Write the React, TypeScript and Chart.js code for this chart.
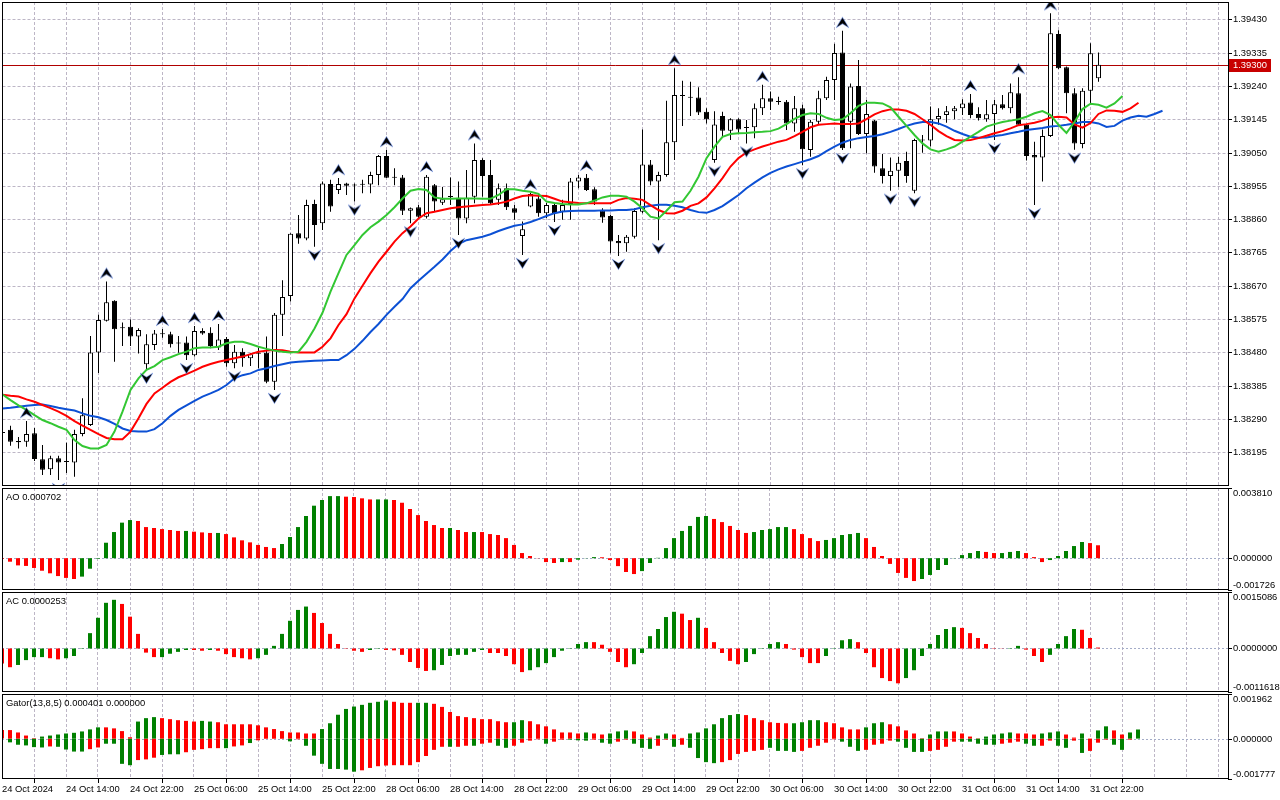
import React, { useEffect, useRef } from "react";
import { Chart, registerables } from "chart.js";

Chart.register(...registerables);

// ---------------- data ----------------
const timeLabels = [
  "24 Oct 2024", "24 Oct 14:00", "24 Oct 22:00", "25 Oct 06:00", "25 Oct 14:00", "25 Oct 22:00",
  "28 Oct 06:00", "28 Oct 14:00", "28 Oct 22:00", "29 Oct 06:00", "29 Oct 14:00", "29 Oct 22:00",
  "30 Oct 06:00", "30 Oct 14:00", "30 Oct 22:00", "31 Oct 06:00", "31 Oct 14:00", "31 Oct 22:00",
];
const LABEL_STEP = 8; // bars between time labels (H1 bars)

const priceTicks = [
  1.39430, 1.39335, 1.39240, 1.39145, 1.39050, 1.38955, 1.38860,
  1.38765, 1.38670, 1.38575, 1.38480, 1.38385, 1.38290, 1.38195,
];

const openP = [
  1.38253,1.38259,1.38227,1.38225,1.38249,1.38175,1.38147,1.38178,1.38170,1.38166,
  1.38247,1.38273,1.38480,1.38570,1.38627,1.38551,1.38553,1.38525,1.38446,1.38501,
  1.38534,1.38532,1.38507,1.38508,1.38472,1.38541,1.38536,1.38494,1.38518,1.38449,
  1.38482,1.38463,1.38478,1.38479,1.38396,1.38587,1.38641,1.38820,1.38805,1.38903,
  1.38848,1.38960,1.38943,1.38962,1.38957,1.38959,1.38959,1.38986,1.39040,1.38978,
  1.38979,1.38884,1.38894,1.38867,1.38957,1.38907,1.38924,1.38921,1.38862,1.38924,
  1.39029,1.38986,1.38915,1.38948,1.38891,1.38812,1.38896,1.38919,1.38877,1.38900,
  1.38881,1.38903,1.38967,1.38978,1.38945,1.38884,1.38869,1.38798,1.38791,1.38810,
  1.38881,1.39016,1.38967,1.38986,1.39079,1.39213,1.39209,1.39207,1.39166,1.39029,
  1.39154,1.39112,1.39145,1.39122,1.39122,1.39176,1.39205,1.39195,1.39195,1.39133,
  1.39176,1.39057,1.39138,1.39205,1.39257,1.39335,1.39138,1.39240,1.39103,1.39141,
  1.39005,1.38983,1.38998,1.39026,1.38941,1.39084,1.39084,1.39145,1.39157,1.39168,
  1.39176,1.39193,1.39160,1.39145,1.39160,1.39188,1.39176,1.39219,1.39129,1.39043,
  1.39036,1.39097,1.39388,1.39293,1.39219,1.39074,1.39226,1.39262,
];
const highP = [
  1.38261,1.38271,1.38239,1.38284,1.38264,1.38216,1.38185,1.38185,1.38222,1.38259,
  1.38349,1.38527,1.38587,1.38682,1.38629,1.38565,1.38574,1.38549,1.38532,1.38544,
  1.38547,1.38539,1.38527,1.38525,1.38555,1.38549,1.38552,1.38561,1.38524,1.38501,
  1.38492,1.38478,1.38494,1.38525,1.38592,1.38686,1.38820,1.38872,1.38915,1.38915,
  1.38967,1.38972,1.38977,1.38964,1.38962,1.38972,1.38995,1.39043,1.39057,1.39005,
  1.38986,1.38893,1.38900,1.38986,1.38960,1.38952,1.38979,1.38967,1.39000,1.39076,
  1.39034,1.39029,1.38962,1.38962,1.38900,1.38853,1.38935,1.38934,1.38906,1.38905,
  1.38915,1.38977,1.38986,1.38989,1.38951,1.38891,1.38872,1.38815,1.38815,1.38891,
  1.39116,1.39029,1.38995,1.39198,1.39290,1.39255,1.39252,1.39236,1.39176,1.39168,
  1.39166,1.39148,1.39148,1.39143,1.39190,1.39243,1.39224,1.39209,1.39200,1.39211,
  1.39186,1.39143,1.39226,1.39266,1.39360,1.39397,1.39247,1.39314,1.39200,1.39143,
  1.39046,1.39036,1.39038,1.39052,1.39089,1.39100,1.39181,1.39176,1.39183,1.39183,
  1.39202,1.39217,1.39179,1.39200,1.39200,1.39214,1.39247,1.39265,1.39131,1.39081,
  1.39116,1.39447,1.39399,1.39295,1.39233,1.39233,1.39362,1.39335,
];
const lowP = [
  1.38241,1.38214,1.38206,1.38211,1.38170,1.38130,1.38130,1.38116,1.38136,1.38125,
  1.38241,1.38270,1.38421,1.38568,1.38453,1.38498,1.38498,1.38477,1.38430,1.38487,
  1.38522,1.38494,1.38479,1.38458,1.38468,1.38530,1.38492,1.38487,1.38439,1.38435,
  1.38439,1.38441,1.38435,1.38392,1.38373,1.38527,1.38625,1.38790,1.38800,1.38781,
  1.38829,1.38881,1.38932,1.38929,1.38910,1.38934,1.38934,1.38957,1.38977,1.38957,
  1.38872,1.38848,1.38862,1.38862,1.38881,1.38900,1.38900,1.38815,1.38848,1.38905,
  1.38924,1.38900,1.38900,1.38886,1.38858,1.38758,1.38894,1.38867,1.38863,1.38852,
  1.38858,1.38858,1.38948,1.38940,1.38900,1.38850,1.38763,1.38755,1.38767,1.38805,
  1.38877,1.38957,1.38800,1.38981,1.39029,1.39126,1.39154,1.39157,1.39133,1.39021,
  1.39095,1.39086,1.39103,1.39076,1.39091,1.39157,1.39171,1.39186,1.39114,1.39109,
  1.39014,1.39038,1.39129,1.39200,1.39200,1.39057,1.39062,1.39100,1.39048,1.38992,
  1.38962,1.38941,1.38952,1.38964,1.38934,1.39049,1.39067,1.39129,1.39135,1.39145,
  1.39157,1.39148,1.39141,1.39138,1.39086,1.39173,1.39162,1.39126,1.39027,1.38900,
  1.38967,1.39094,1.39288,1.39162,1.39058,1.39062,1.39190,1.39252,
];
const closeP = [
  1.38250,1.38225,1.38224,1.38247,1.38176,1.38145,1.38178,1.38166,1.38167,1.38247,
  1.38301,1.38480,1.38572,1.38623,1.38546,1.38549,1.38525,1.38544,1.38503,1.38534,
  1.38532,1.38503,1.38505,1.38472,1.38541,1.38534,1.38498,1.38517,1.38449,1.38482,
  1.38463,1.38475,1.38476,1.38396,1.38587,1.38638,1.38818,1.38805,1.38900,1.38843,
  1.38962,1.38896,1.38960,1.38955,1.38956,1.38958,1.38986,1.39040,1.38978,1.38979,
  1.38884,1.38891,1.38867,1.38981,1.38910,1.38917,1.38923,1.38862,1.38921,1.39029,
  1.38983,1.38905,1.38948,1.38894,1.38878,1.38831,1.38932,1.38877,1.38900,1.38877,
  1.38900,1.38967,1.38979,1.38943,1.38910,1.38865,1.38796,1.38791,1.38810,1.38883,
  1.39016,1.38967,1.38986,1.39079,1.39214,1.39211,1.39206,1.39164,1.39145,1.39130,
  1.39112,1.39145,1.39116,1.39120,1.39176,1.39205,1.39195,1.39194,1.39133,1.39176,
  1.39059,1.39138,1.39205,1.39257,1.39334,1.39062,1.39238,1.39103,1.39160,1.39010,
  1.38983,1.38998,1.39021,1.38983,1.39086,1.39087,1.39145,1.39154,1.39168,1.39176,
  1.39190,1.39157,1.39148,1.39159,1.39188,1.39176,1.39222,1.39129,1.39040,1.39036,
  1.39097,1.39390,1.39290,1.39219,1.39076,1.39226,1.39333,1.39300,
];

// Alligator (already shifted forward: jaw +8, teeth +5, lips +3 bars)
const jaw = [
  1.38320,1.38322,1.38325,1.38328,1.38330,1.38331,1.38327,1.38322,1.38318,1.38314,
  1.38306,1.38299,1.38295,1.38287,1.38276,1.38263,1.38256,1.38254,1.38254,1.38261,
  1.38278,1.38299,1.38316,1.38329,1.38342,1.38354,1.38363,1.38373,1.38387,1.38406,
  1.38415,1.38420,1.38430,1.38435,1.38441,1.38446,1.38451,1.38453,1.38455,1.38456,
  1.38457,1.38458,1.38458,1.38472,1.38490,1.38513,1.38538,1.38561,1.38587,1.38610,
  1.38632,1.38663,1.38684,1.38704,1.38724,1.38745,1.38769,1.38789,1.38800,1.38805,
  1.38810,1.38817,1.38826,1.38834,1.38841,1.38845,1.38852,1.38860,1.38869,1.38877,
  1.38882,1.38883,1.38884,1.38884,1.38884,1.38885,1.38885,1.38886,1.38886,1.38888,
  1.38894,1.38898,1.38901,1.38901,1.38898,1.38894,1.38886,1.38880,1.38878,1.38886,
  1.38897,1.38913,1.38929,1.38948,1.38964,1.38979,1.38992,1.39002,1.39010,1.39017,
  1.39024,1.39031,1.39040,1.39054,1.39067,1.39078,1.39086,1.39091,1.39094,1.39097,
  1.39102,1.39109,1.39117,1.39126,1.39133,1.39137,1.39137,1.39133,1.39124,1.39112,
  1.39103,1.39095,1.39092,1.39093,1.39097,1.39100,1.39105,1.39109,1.39114,1.39117,
  1.39120,1.39124,1.39126,1.39129,1.39133,1.39137,1.39137,1.39133,1.39123,1.39126,
  1.39141,1.39150,1.39155,1.39152,1.39160,1.39169,
];
const teeth = [
  1.38359,1.38356,1.38354,1.38346,1.38339,1.38330,1.38321,1.38311,1.38299,1.38284,
  1.38271,1.38259,1.38247,1.38236,1.38232,1.38232,1.38254,1.38292,1.38333,1.38363,
  1.38379,1.38396,1.38409,1.38418,1.38428,1.38439,1.38447,1.38453,1.38458,1.38463,
  1.38468,1.38475,1.38482,1.38485,1.38487,1.38486,1.38482,1.38480,1.38480,1.38480,
  1.38496,1.38520,1.38558,1.38589,1.38634,1.38670,1.38706,1.38739,1.38767,1.38796,
  1.38820,1.38839,1.38862,1.38877,1.38881,1.38886,1.38891,1.38894,1.38896,1.38898,
  1.38900,1.38902,1.38905,1.38910,1.38919,1.38926,1.38928,1.38927,1.38926,1.38918,
  1.38910,1.38908,1.38906,1.38905,1.38905,1.38905,1.38905,1.38915,1.38920,1.38918,
  1.38915,1.38900,1.38886,1.38877,1.38876,1.38884,1.38898,1.38905,1.38922,1.38948,
  1.38977,1.39010,1.39034,1.39050,1.39059,1.39067,1.39074,1.39081,1.39086,1.39097,
  1.39109,1.39122,1.39129,1.39131,1.39133,1.39131,1.39131,1.39133,1.39145,1.39159,
  1.39168,1.39173,1.39173,1.39169,1.39160,1.39145,1.39129,1.39111,1.39097,1.39086,
  1.39084,1.39086,1.39091,1.39098,1.39105,1.39111,1.39119,1.39128,1.39131,1.39135,
  1.39141,1.39150,1.39152,1.39150,1.39130,1.39121,1.39134,1.39160,1.39170,1.39169,
  1.39166,1.39176,1.39192,
];
const lips = [
  1.38360,1.38344,1.38329,1.38316,1.38301,1.38287,1.38278,1.38268,1.38259,1.38230,
  1.38213,1.38206,1.38206,1.38216,1.38254,1.38311,1.38373,1.38406,1.38430,1.38441,
  1.38458,1.38466,1.38475,1.38482,1.38492,1.38494,1.38494,1.38496,1.38506,1.38510,
  1.38510,1.38504,1.38496,1.38490,1.38485,1.38482,1.38480,1.38482,1.38510,1.38548,
  1.38593,1.38653,1.38706,1.38758,1.38786,1.38815,1.38837,1.38853,1.38872,1.38894,
  1.38919,1.38941,1.38946,1.38943,1.38922,1.38918,1.38918,1.38919,1.38919,1.38919,
  1.38918,1.38918,1.38929,1.38945,1.38945,1.38941,1.38938,1.38932,1.38910,1.38906,
  1.38903,1.38902,1.38902,1.38905,1.38913,1.38922,1.38927,1.38927,1.38924,1.38910,
  1.38891,1.38867,1.38862,1.38884,1.38908,1.38910,1.38941,1.38981,1.39034,1.39067,
  1.39095,1.39103,1.39105,1.39106,1.39108,1.39109,1.39111,1.39118,1.39131,1.39146,
  1.39157,1.39162,1.39160,1.39149,1.39143,1.39145,1.39162,1.39183,1.39192,1.39192,
  1.39190,1.39179,1.39152,1.39126,1.39100,1.39076,1.39059,1.39052,1.39059,1.39067,
  1.39081,1.39095,1.39109,1.39124,1.39131,1.39137,1.39141,1.39145,1.39152,1.39162,
  1.39168,1.39157,1.39129,1.39106,1.39137,1.39174,1.39189,1.39186,1.39178,1.39190,
  1.39211,
];

const fractalUp = [3, 13, 20, 24, 27, 42, 48, 53, 59, 66, 73, 84, 95, 105, 121, 127, 131];
const fractalDown = [7, 18, 23, 29, 34, 39, 44, 51, 57, 65, 69, 77, 82, 89, 93, 100, 105, 111, 114, 124, 129, 134];

const ao = [
  -0.00005,-0.00019,-0.00039,-0.00042,-0.00053,-0.00068,-0.00082,-0.00097,-0.00107,-0.00113,
  -0.00100,-0.00057,-0.00003,0.00084,0.00142,0.00193,0.00207,0.00202,0.00169,0.00164,
  0.00158,0.00153,0.00148,0.00148,0.00144,0.00140,0.00137,0.00137,0.00131,0.00113,
  0.00097,0.00086,0.00072,0.00061,0.00055,0.00077,0.00115,0.00169,0.00229,0.00285,
  0.00316,0.00337,0.00337,0.00334,0.00332,0.00325,0.00319,0.00319,0.00319,0.00316,
  0.00301,0.00267,0.00234,0.00202,0.00180,0.00164,0.00164,0.00153,0.00142,0.00142,
  0.00142,0.00131,0.00126,0.00109,0.00072,0.00028,0.00012,-0.00001,-0.00021,-0.00026,
  -0.00021,-0.00021,-0.00008,0.00001,0.00006,0.00005,-0.00010,-0.00043,-0.00075,-0.00086,
  -0.00070,-0.00026,0.00002,0.00055,0.00109,0.00148,0.00175,0.00224,0.00229,0.00213,
  0.00196,0.00175,0.00153,0.00137,0.00142,0.00153,0.00158,0.00169,0.00169,0.00158,
  0.00131,0.00109,0.00093,0.00099,0.00109,0.00126,0.00131,0.00137,0.00109,0.00061,
  0.00012,-0.00031,-0.00080,-0.00107,-0.00124,-0.00113,-0.00091,-0.00064,-0.00037,0.00001,
  0.00017,0.00028,0.00039,0.00034,0.00028,0.00028,0.00034,0.00039,0.00028,0.00006,
  -0.00021,-0.00010,0.00012,0.00039,0.00066,0.00088,0.00082,0.000702,
];
const aoColors =
  "rrrrrrrrrr" + "gggggggrrr" + "rrrgrrrgrr" + "rrrrrggggg" + "gggrrrrggr" +
  "rrrrrrgrrg" + "rrrrrrrrrr" + "grgggrrrrr" + "gggggggggr" + "rrrrgggggr" +
  "rrrgggggrr" + "rrrrrggggg" + "gggrrgggrr" + "rgggggrr";

const ac = [
  -0.00040,-0.00050,-0.00044,-0.00031,-0.00023,-0.00023,-0.00026,-0.00029,-0.00026,-0.00020,
  0.00001,0.00041,0.00082,0.00122,0.00130,0.00119,0.00085,0.00039,-0.00011,-0.00023,
  -0.00023,-0.00014,-0.00009,-0.00004,-0.00004,-0.00006,-0.00004,-0.00006,-0.00015,-0.00023,
  -0.00026,-0.00029,-0.00026,-0.00017,0.00007,0.00039,0.00074,0.00103,0.00112,0.00095,
  0.00068,0.00039,0.00012,-0.00001,-0.00006,-0.00009,-0.00004,0.00001,-0.00004,-0.00005,
  -0.00017,-0.00036,-0.00052,-0.00060,-0.00058,-0.00044,-0.00020,-0.00017,-0.00017,-0.00009,
  -0.00004,-0.00012,-0.00012,-0.00020,-0.00042,-0.00063,-0.00058,-0.00050,-0.00039,-0.00023,
  -0.00006,-0.00001,0.00012,0.00017,0.00017,0.00010,-0.00009,-0.00036,-0.00050,-0.00042,
  -0.00012,0.00033,0.00052,0.00084,0.00098,0.00093,0.00076,0.00082,0.00055,0.00017,
  -0.00012,-0.00033,-0.00042,-0.00036,-0.00015,-0.00001,0.00012,0.00017,0.00012,-0.00003,
  -0.00023,-0.00039,-0.00039,-0.00020,0.00001,0.00022,0.00025,0.00017,-0.00012,-0.00050,
  -0.00079,-0.00087,-0.00093,-0.00079,-0.00058,-0.00020,0.00012,0.00036,0.00052,0.00057,
  0.00055,0.00041,0.00028,0.00012,-0.00001,0.000005,0.00001,0.00007,-0.00003,-0.00020,
  -0.00036,-0.00017,0.00012,0.00033,0.00052,0.00050,0.00028,0.0000253,
];
const acColors =
  "rrggggrrgg" + "gggggrrrrr" + "ggggrrgrrr" + "rrgggggggr" + "rrrrrrggrr" +
  "rrrrgggggg" + "grrrrrgggg" + "ggggrrrrrg" + "gggggrrgrr" + "rrrgggggrr" +
  "rrrggggrrr" + "rrrggggggg" + "rrrrrrggrr" + "rggggrrr";

const gatorUpper = [
  0.000375,0.000375,0.00027,0.000135,0.00002,0.00009,0.000135,0.00018,0.000225,0.000255,
  0.000315,0.000405,0.000495,0.000495,0.00045,0.00033,0.00006,0.00075,0.0009,0.000945,
  0.0009,0.000855,0.00081,0.00078,0.00075,0.00078,0.00075,0.00072,0.00063,0.00063,
  0.00063,0.00063,0.000585,0.000495,0.00042,0.00033,0.00027,0.00027,0.000225,0.000225,
  0.00042,0.000675,0.00105,0.001305,0.00141,0.001485,0.001575,0.00162,0.00168,0.00162,
  0.001575,0.001575,0.001575,0.001575,0.00153,0.001395,0.00117,0.00099,0.000945,0.0009,
  0.000855,0.000855,0.000765,0.00072,0.00072,0.00081,0.000765,0.00063,0.00054,0.000405,
  0.00027,0.00027,0.000225,0.00027,0.000225,0.00018,0.000225,0.000315,0.00036,0.000315,
  0.00018,0.000045,0.000135,0.000225,0.00018,0.00003,0.000225,0.00027,0.00045,0.00063,
  0.0009,0.001035,0.00108,0.001035,0.0009,0.00081,0.00072,0.00069,0.000675,0.000675,
  0.00072,0.00081,0.00081,0.00072,0.000675,0.000495,0.000405,0.000405,0.000495,0.000675,
  0.00072,0.00063,0.00054,0.00036,0.000225,0.000015,0.00018,0.000315,0.000315,0.000315,
  0.000225,0.00009,0.00001,0.00009,0.00018,0.000225,0.00027,0.000225,0.000225,0.00018,
  0.000225,0.00027,0.000315,0.00018,0.000045,0.000225,0,0.00036,0.00054,0.00036,
  0.00018,0.00027,0.000401,
];
const gatorUpperColors =
  "rrrrrggggg" + "gggrrrrggg" + "rrrrrggrrr" + "rrrrrrrrrr" + "gggggggggr" +
  "rrggrrrrrr" + "rrrrggrrrr" + "rrrgrrgggr" + "rrggrrgggg" + "gggrrrrrrg" +
  "gggrrrrrgg" + "grrrrrgggr" + "rrrggggrrr" + "gggrrgrggr" + "rgg";

const gatorLower = [
  0,-0.000165,-0.00027,-0.0003,-0.000375,-0.00039,-0.000345,-0.00036,-0.00048,-0.00057,
  -0.00057,-0.000465,-0.00039,-0.000225,-0.000225,-0.00111,-0.00117,-0.000945,-0.000915,-0.00084,
  -0.00072,-0.00069,-0.00069,-0.0006,-0.000495,-0.000465,-0.00042,-0.00042,-0.00042,-0.000345,
  -0.0003,-0.000195,-0.000075,-0.000015,-0.000015,-0.000015,-0.00012,-0.00003,-0.000315,-0.00075,
  -0.00111,-0.001335,-0.001335,-0.001365,-0.001455,-0.001395,-0.00129,-0.001215,-0.001185,-0.00117,
  -0.00117,-0.00117,-0.001035,-0.000765,-0.000495,-0.00036,-0.00036,-0.00036,-0.000315,-0.000315,
  -0.000225,-0.00018,-0.000315,-0.000405,-0.000315,-0.00018,-0.00009,-0.00003,-0.000225,-0.000135,
  -0.000045,-0.000045,-0.000075,-0.00009,-0.000045,-0.00018,-0.000225,-0.000135,-0.000045,-0.000225,
  -0.000405,-0.00045,-0.000315,-0.000045,-0.00036,-0.00027,-0.000405,-0.000855,-0.001035,-0.00108,
  -0.001035,-0.000945,-0.000675,-0.000585,-0.00054,-0.000495,-0.000405,-0.00054,-0.00054,-0.000585,
  -0.00054,-0.000405,-0.000315,-0.00018,-0.00003,-0.000135,-0.00036,-0.00054,-0.000495,-0.00027,
  -0.000225,-0.00009,-0.000135,-0.000405,-0.000585,-0.000585,-0.00054,-0.000495,-0.00036,-0.000135,
  -0.000135,-0.000135,-0.000225,-0.00027,-0.00027,-0.000225,-0.00018,-0.000135,-0.000225,-0.000315,
  -0.000315,-0.00009,-0.000315,-0.000405,-0.00009,-0.00063,-0.00054,-0.00018,-0.000045,-0.00027,
  -0.000495,-0.000045,
];
const gatorLowerColors =
  "ggggggrggg" + "grrggggrrr" + "gggrrrrrgr" + "rgrrrrgrgg" + "gggggrrrrr" +
  "rrrrrrgrrg" + "rrggrrrrgr" + "rgggrggrrg" + "ggrrgrgggg" + "rrrrrrgggg" +
  "rrrrrgggrr" + "rrggggrrrr" + "gggggrrrgg" + "rrggrgrrrg" + "gr";

// visible value windows of each pane
const priceRange = { max: 1.394793, min: 1.380989 };
const aoRange = { max: 0.003810, min: -0.001726 };
const acRange = { max: 0.0015086, min: -0.0011618 };
const gatorRange = { max: 0.001962, min: -0.001777 };

// ---------------- style ----------------
const FONT_FAMILY = '"Liberation Sans", Arial, sans-serif';
const FONT_SIZE = 9.4;
const FONT = `${FONT_SIZE}px ${FONT_FAMILY}`;
const GREEN = "#008000";
const RED = "#ff0000";
const GRID = "#bdb6c6";
const ZERO_LINE = "#a4acc8";
const AXIS_W = 52;
const PLOT_RIGHT = 1280 - AXIS_W; // 1228
const BAR_PX = 8;

type AxisLabel = { v: number; text: string; where: "top" | "mid" | "bot" };
type PanelCfg = {
  header?: string;
  axis?: AxisLabel[];
  zero?: boolean;
  hgrid?: number[];
  priceLine?: number;
};

function panelPlugin(cfg: PanelCfg) {
  return {
    id: "panelDecor",
    beforeDatasetsDraw(chart: any) {
      const { ctx, chartArea: a, scales } = chart;
      const xs = scales.x;
      const ys = scales.y;
      ctx.save();
      ctx.lineWidth = 1;
      ctx.strokeStyle = GRID;
      ctx.setLineDash([3, 2]);
      for (let i = 4; i <= xs.max; i += 4) {
        const px = Math.floor(xs.getPixelForValue(i)) + 0.5;
        ctx.beginPath();
        ctx.moveTo(px, a.top);
        ctx.lineTo(px, a.bottom);
        ctx.stroke();
      }
      if (cfg.hgrid) {
        for (const v of cfg.hgrid) {
          const py = Math.round(ys.getPixelForValue(v)) + 0.5;
          ctx.beginPath();
          ctx.moveTo(a.left, py);
          ctx.lineTo(a.right, py);
          ctx.stroke();
        }
      }
      if (cfg.zero) {
        ctx.strokeStyle = ZERO_LINE;
        ctx.setLineDash([2, 2]);
        const py = Math.round(ys.getPixelForValue(0)) + 0.5;
        ctx.beginPath();
        ctx.moveTo(a.left, py);
        ctx.lineTo(a.right, py);
        ctx.stroke();
      }
      if (cfg.priceLine !== undefined) {
        ctx.setLineDash([]);
        ctx.strokeStyle = "#b00000";
        const py = Math.round(ys.getPixelForValue(cfg.priceLine)) + 0.5;
        ctx.beginPath();
        ctx.moveTo(a.left, py);
        ctx.lineTo(a.right, py);
        ctx.stroke();
      }
      ctx.restore();
    },
    afterDraw(chart: any) {
      const { ctx, chartArea: a, scales } = chart;
      const ys = scales.y;
      ctx.save();
      ctx.setLineDash([]);
      ctx.lineWidth = 1;
      ctx.strokeStyle = "#000";
      const top = Math.round(a.top) + 0.5;
      const bot = Math.round(a.bottom) - 0.5;
      ctx.strokeRect(2.5, top, PLOT_RIGHT - 2, bot - top);
      ctx.font = FONT;
      ctx.fillStyle = "#000";
      ctx.textBaseline = "middle";
      ctx.textAlign = "left";
      if (cfg.axis) {
        for (const lab of cfg.axis) {
          const py = Math.round(ys.getPixelForValue(lab.v)) + 0.5;
          ctx.beginPath();
          ctx.moveTo(PLOT_RIGHT, py);
          ctx.lineTo(PLOT_RIGHT + 4, py);
          ctx.stroke();
          let ty = py;
          if (lab.where === "top") ty = a.top + 5;
          if (lab.where === "bot") ty = a.bottom - 5;
          ctx.fillText(lab.text, PLOT_RIGHT + 5, ty);
        }
      }
      if (cfg.header) {
        ctx.fillText(cfg.header, 6, a.top + 9.5);
      }
      if (cfg.priceLine !== undefined) {
        const py = Math.round(ys.getPixelForValue(cfg.priceLine));
        ctx.fillStyle = "#c80000";
        ctx.fillRect(PLOT_RIGHT + 1, py - 6, 42, 13);
        ctx.fillStyle = "#fff";
        ctx.fillText(cfg.priceLine.toFixed(5), PLOT_RIGHT + 5, py + 0.5);
      }
      ctx.restore();
    },
  };
}

function makeArrow(up: boolean) {
  const c = document.createElement("canvas");
  c.width = 13;
  c.height = 34;
  const g = c.getContext("2d")!;
  const pts = up
    ? [[6.5, 4], [12, 13], [6.5, 9.5], [1, 13]]
    : [[6.5, 30], [12, 21], [6.5, 24.5], [1, 21]];
  g.beginPath();
  g.moveTo(pts[0][0], pts[0][1]);
  for (let k = 1; k < pts.length; k++) g.lineTo(pts[k][0], pts[k][1]);
  g.closePath();
  g.lineWidth = 1.2;
  g.strokeStyle = "rgba(70,110,210,0.75)";
  g.stroke();
  g.fillStyle = "#000";
  g.fill();
  return c;
}

const colorOf = (s: string) => s.split("").map((ch) => (ch === "g" ? GREEN : RED));

function histDataset(values: number[], colors: string) {
  return {
    type: "bar" as const,
    data: values.map((v, i) => ({ x: i, y: v })),
    backgroundColor: colorOf(colors),
    borderWidth: 0,
    barThickness: 4,
    grouped: false,
    inflateAmount: 0,
  };
}

const common = {
  responsive: false,
  animation: false as const,
  devicePixelRatio: 1,
  events: [] as any[],
  plugins: { legend: { display: false }, tooltip: { enabled: false } },
};

export default function App() {
  const mainRef = useRef<HTMLCanvasElement>(null);
  const aoRef = useRef<HTMLCanvasElement>(null);
  const acRef = useRef<HTMLCanvasElement>(null);
  const gatorRef = useRef<HTMLCanvasElement>(null);

  useEffect(() => {
    Chart.defaults.font.family = FONT_FAMILY;
    Chart.defaults.font.size = FONT_SIZE;
    const charts: Chart[] = [];
    const arrowUp = makeArrow(true);
    const arrowDown = makeArrow(false);
    const lastClose = closeP[closeP.length - 1];

    // ---------- main price panel ----------
    const mainLeft = 2.5;
    charts.push(
      new Chart(mainRef.current!, {
        type: "bar",
        data: {
          datasets: [
            {
              type: "line",
              data: fractalUp.map((i) => ({ x: i, y: highP[i] })),
              showLine: false,
              pointStyle: arrowUp as any,
              pointRadius: 5,
              clip: 0,
              order: 0,
            } as any,
            {
              type: "line",
              data: fractalDown.map((i) => ({ x: i, y: lowP[i] })),
              showLine: false,
              pointStyle: arrowDown as any,
              pointRadius: 5,
              clip: 0,
              order: 0,
            } as any,
            {
              type: "line",
              data: lips.map((v, i) => ({ x: i, y: v })),
              borderColor: "#33c733",
              borderWidth: 2,
              pointRadius: 0,
              order: 1,
            },
            {
              type: "line",
              data: teeth.map((v, i) => ({ x: i, y: v })),
              borderColor: "#ff0000",
              borderWidth: 2,
              pointRadius: 0,
              order: 1,
            },
            {
              type: "line",
              data: jaw.map((v, i) => ({ x: i, y: v })),
              borderColor: "#0c50d4",
              borderWidth: 2,
              pointRadius: 0,
              order: 1,
            },
            {
              type: "bar",
              data: openP.map((o, i) => ({ x: i, y: [o, closeP[i]] })),
              backgroundColor: openP.map((o, i) => (closeP[i] >= o ? "#ffffff" : "#000000")),
              borderColor: "#000",
              borderWidth: 1,
              borderSkipped: false,
              barThickness: 5,
              minBarLength: 1,
              grouped: false,
              inflateAmount: 0,
              order: 2,
            } as any,
            {
              type: "bar",
              data: lowP.map((l, i) => ({ x: i, y: [l, highP[i]] })),
              backgroundColor: "#000",
              borderWidth: 0,
              barThickness: 1,
              grouped: false,
              inflateAmount: 0,
              order: 3,
            } as any,
          ],
        },
        options: {
          ...common,
          layout: { autoPadding: false, padding: { left: mainLeft, right: AXIS_W, top: 2, bottom: 1 } },
          scales: {
            x: {
              type: "linear",
              min: 0,
              max: (PLOT_RIGHT - mainLeft) / BAR_PX,
              offset: false,
              display: false,
            },
            y: { min: priceRange.min, max: priceRange.max, display: false },
          },
        } as any,
        plugins: [
          panelPlugin({
            hgrid: priceTicks,
            priceLine: lastClose,
            axis: priceTicks.map((v) => ({ v, text: v.toFixed(5), where: "mid" as const })),
          }),
        ],
      })
    );

    // ---------- sub panels ----------
    const sub = (
      canvas: HTMLCanvasElement,
      datasets: any[],
      range: { min: number; max: number },
      cfg: PanelCfg,
      timeAxis: boolean
    ) =>
      new Chart(canvas, {
        type: "bar",
        data: { datasets },
        options: {
          ...common,
          layout: {
            autoPadding: false,
            padding: { left: 2, right: AXIS_W, top: 1, bottom: timeAxis ? 0 : 1 },
          },
          scales: {
            x: timeAxis
              ? {
                  type: "linear",
                  min: 0,
                  max: (PLOT_RIGHT - 2) / BAR_PX,
                  offset: false,
                  position: "bottom",
                  afterBuildTicks: (s: any) => {
                    s.ticks = timeLabels.map((_, k) => ({ value: k * LABEL_STEP }));
                  },
                  afterFit: (s: any) => {
                    s.height = 21;
                    s.paddingLeft = 0;
                    s.paddingRight = 0;
                  },
                  ticks: {
                    callback: (v: any) => timeLabels[Math.round(Number(v) / LABEL_STEP)] ?? "",
                    align: "start",
                    maxRotation: 0,
                    minRotation: 0,
                    autoSkip: false,
                    color: "#000",
                    padding: 1,
                    font: { family: FONT_FAMILY, size: FONT_SIZE },
                  },
                  grid: { drawOnChartArea: false, drawTicks: true, tickLength: 4, color: "#000" },
                  border: { display: false },
                }
              : { type: "linear", min: 0, max: (PLOT_RIGHT - 2) / BAR_PX, offset: false, display: false },
            y: { min: range.min, max: range.max, display: false },
          },
        } as any,
        plugins: [panelPlugin(cfg)],
      });

    const axisLabels = (r: { min: number; max: number }, digits: number): AxisLabel[] => [
      { v: r.max, text: r.max.toFixed(digits), where: "top" },
      { v: 0, text: (0).toFixed(digits), where: "mid" },
      { v: r.min, text: r.min.toFixed(digits), where: "bot" },
    ];

    charts.push(
      sub(aoRef.current!, [histDataset(ao, aoColors)], aoRange, {
        header: `AO ${ao[ao.length - 1].toFixed(6)}`,
        axis: axisLabels(aoRange, 6),
        zero: true,
      }, false)
    );
    charts.push(
      sub(acRef.current!, [histDataset(ac, acColors)], acRange, {
        header: `AC ${ac[ac.length - 1].toFixed(7)}`,
        axis: axisLabels(acRange, 7),
        zero: true,
      }, false)
    );
    const gLowLast = gatorUpper.length === gatorLower.length ? Math.abs(gatorLower[gatorLower.length - 1]) : 0;
    charts.push(
      sub(
        gatorRef.current!,
        [histDataset(gatorUpper, gatorUpperColors), histDataset(gatorLower, gatorLowerColors)],
        gatorRange,
        {
          header: `Gator(13,8,5) ${gatorUpper[gatorUpper.length - 1].toFixed(6)} ${gLowLast.toFixed(6)}`,
          axis: axisLabels(gatorRange, 6),
          zero: true,
        },
        true
      )
    );

    return () => {
      charts.forEach((c) => c.destroy());
    };
  }, []);

  const cv = (top: number, h: number): React.CSSProperties => ({
    position: "absolute",
    left: 0,
    top,
    width: 1280,
    height: h,
    display: "block",
  });

  return (
    <div
      style={{
        position: "fixed",
        left: 0,
        top: 0,
        width: 1280,
        height: 800,
        background: "#ffffff",
        overflow: "hidden",
      }}
    >
      <canvas ref={mainRef} width={1280} height={487} style={cv(0, 487)} />
      <canvas ref={aoRef} width={1280} height={104} style={cv(487, 104)} />
      <canvas ref={acRef} width={1280} height={102} style={cv(591, 102)} />
      <canvas ref={gatorRef} width={1280} height={107} style={cv(693, 107)} />
    </div>
  );
}
